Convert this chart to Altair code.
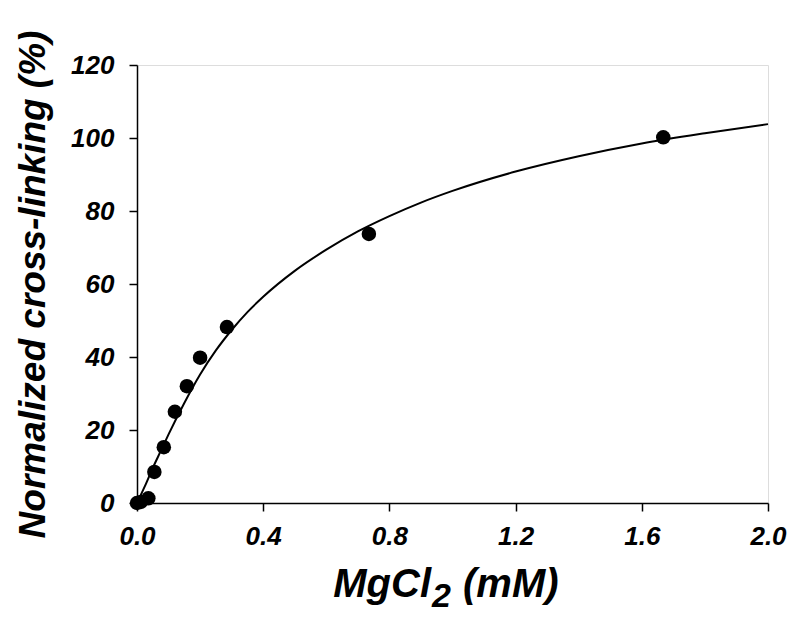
import altair as alt
import pandas as pd

# measured points
conc_mM = [0.0, 0.012, 0.036, 0.055, 0.085, 0.12, 0.158, 0.2, 0.285, 0.735, 1.668]
crosslink_pct = [0.0, 0.3, 1.3, 8.5, 15.3, 25.0, 32.0, 39.8, 48.2, 73.7, 100.2]

# fitted curve
fit_x = [0.0, 0.025, 0.05, 0.075, 0.1, 0.15, 0.2, 0.25, 0.3, 0.35, 0.4, 0.5, 0.6,
         0.7, 0.8, 0.9, 1.0, 1.2, 1.4, 1.6, 1.8, 2.0]
fit_y = [0.0, 4.6, 9.6, 14.2, 18.8, 27.4, 35.2, 41.8, 47.4, 52.3, 56.5, 63.6, 69.4,
         74.4, 78.6, 82.3, 85.5, 90.8, 95.0, 98.5, 101.3, 103.8]

x_ticks = [0.0, 0.4, 0.8, 1.2, 1.6, 2.0]
y_ticks = [0, 20, 40, 60, 80, 100, 120]

# x-axis title pieces (base text, subscript, rest)
xtitle_parts = ["MgCl", "2", "(mM)"]
ytitle = "Normalized cross-linking (%)"

pts = pd.DataFrame({"x": conc_mM, "y": crosslink_pct})
fit = pd.DataFrame({"x": fit_x, "y": fit_y})

FONT = "Liberation Sans"

common_axis = dict(
    grid=False,
    tickSize=8,
    tickWidth=1.5,
    tickColor="black",
    domainColor="black",
    domainWidth=1.5,
    labelFont=FONT,
    labelFontSize=26,
    labelFontWeight="bold",
    labelFontStyle="italic",
    labelColor="black",
    labelFlush=False,
)

x_enc = alt.X(
    "x:Q",
    scale=alt.Scale(domain=[0, 2], nice=False, zero=False),
    axis=alt.Axis(title=None, values=x_ticks, format=".1f", labelPadding=12, **common_axis),
)
y_enc = alt.Y(
    "y:Q",
    scale=alt.Scale(domain=[0, 120], nice=False),
    axis=alt.Axis(
        title=ytitle,
        values=y_ticks,
        format="d",
        labelPadding=15,
        titleFont=FONT,
        titleFontSize=37,
        titleFontWeight="bold",
        titleFontStyle="italic",
        titleColor="black",
        titleAngle=-90,
        titleX=-93,
        titleY=219,
        titleBaseline="alphabetic",
        titleAlign="center",
        **common_axis,
    ),
)

line = alt.Chart(fit).mark_line(color="black", strokeWidth=2, interpolate="monotone").encode(
    x=x_enc, y=y_enc
)
dots = alt.Chart(pts).mark_circle(color="black", opacity=1, size=210).encode(x="x:Q", y="y:Q")

title_style = dict(font=FONT, fontWeight="bold", fontStyle="italic", color="black", baseline="alphabetic")
t1 = alt.Chart(pd.DataFrame({"t": [xtitle_parts[0]]})).mark_text(
    align="right", fontSize=40, **title_style
).encode(text="t:N", x=alt.value(294), y=alt.value(532))
t2 = alt.Chart(pd.DataFrame({"t": [xtitle_parts[1]]})).mark_text(
    align="left", fontSize=34, **title_style
).encode(text="t:N", x=alt.value(295), y=alt.value(542))
t3 = alt.Chart(pd.DataFrame({"t": [xtitle_parts[2]]})).mark_text(
    align="left", fontSize=40, **title_style
).encode(text="t:N", x=alt.value(326), y=alt.value(532))

chart = (
    alt.layer(line, dots, t1, t2, t3)
    .properties(
        width=631,
        height=438,
        autosize=alt.AutoSizeParams(type="none"),
        padding={"left": 129, "top": 57, "right": 24, "bottom": 112},
    )
    .configure_view(stroke="black", strokeWidth=1.5)
    .configure(background="white")
)

chart.save("out.html", embed_options={"renderer": "svg", "actions": False})
